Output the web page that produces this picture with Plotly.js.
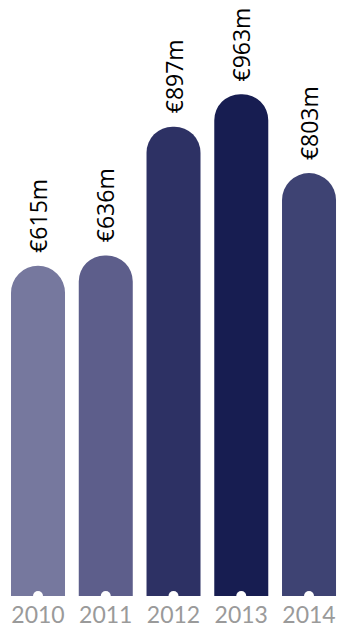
<!DOCTYPE html>
<html>
<head>
<meta charset="utf-8">
<script src="https://cdn.plot.ly/plotly-3.0.1.min.js"></script>
<style>html,body{margin:0;padding:0;background:#fff;}#chart{width:341px;height:628px;}</style>
</head>
<body>
<div id="chart"></div>
<script>
const years = ['2010', '2011', '2012', '2013', '2014'];
const values = [615, 636, 897, 963, 803];
const labels = ['€615m', '€636m', '€897m', '€963m', '€803m'];
const colors = ['#76789e', '#5d5e8b', '#2d3164', '#171d51', '#3e4373'];

const capOffset = 54.8; // room for the round cap below each value

const bars = {
  type: 'bar',
  x: years,
  y: values.map(v => v + capOffset),
  marker: {color: colors, cornerradius: '50%', line: {width: 0}},
  hoverinfo: 'skip'
};

const dots = {
  type: 'scatter',
  mode: 'markers',
  x: years,
  y: years.map(() => 0),
  marker: {color: '#ffffff', size: 10, line: {width: 0}},
  hoverinfo: 'skip'
};

const annotations = years.map((yr, i) => ({
  x: i, y: values[i] + capOffset, xref: 'x', yref: 'y',
  text: labels[i], showarrow: false, textangle: -90,
  xanchor: 'center', yanchor: 'bottom', yshift: 11,
  font: {family: '"Open Sans", "DejaVu Sans", sans-serif', size: 23, color: '#000000'}
}));

const layout = {
  width: 341, height: 628,
  margin: {l: 0, r: 0, t: 0, b: 32, pad: 0},
  paper_bgcolor: '#ffffff', plot_bgcolor: '#ffffff',
  showlegend: false,
  bargap: 0.203,
  xaxis: {
    type: 'category', range: [-0.561, 4.472],
    showgrid: false, zeroline: false, showline: false, ticks: '',
    ticklabelstandoff: 3,
    tickfont: {family: 'Lato, sans-serif', size: 23, color: '#9a9a9a'},
    fixedrange: true
  },
  yaxis: {
    range: [0, 1208.9], visible: false, showgrid: false, zeroline: false,
    fixedrange: true
  },
  annotations: annotations
};

Plotly.newPlot('chart', [bars, dots], layout, {displayModeBar: false});
</script>
</body>
</html>
